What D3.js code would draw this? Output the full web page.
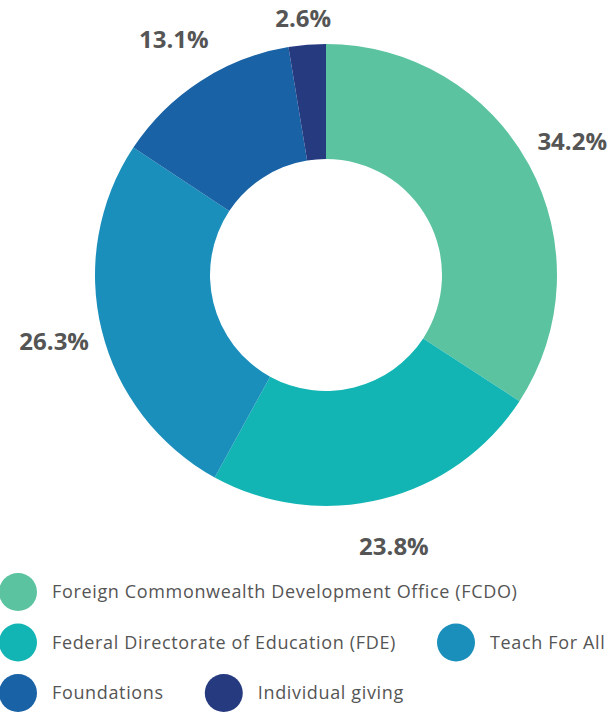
<!DOCTYPE html>
<html>
<head>
<meta charset="utf-8">
<script src="https://cdn.jsdelivr.net/npm/d3@7"></script>
<style>
  body { margin: 0; background: #fff; }
  svg { display: block; }
</style>
</head>
<body>
<div id="chart"></div>
<script>
const width = 612
const height = 713

// funding sources, clockwise from 12 o'clock
const sources = [
  "Foreign Commonwealth Development Office (FCDO)",
  "Federal Directorate of Education (FDE)",
  "Teach For All",
  "Foundations",
  "Individual giving"
]
const shares = [34.2, 23.8, 26.3, 13.1, 2.6]
const colors = ["#5bc3a0", "#13b5b4", "#1b8fbc", "#1862a5", "#263a80"]

const data = sources.map((s, i) => ({ name: s, value: shares[i] }))

const svg = d3.select("#chart")
  .append("svg")
  .attr("width", width)
  .attr("height", height)

const cx = 326, cy = 275
const outer = 231, inner = 116
const labelR = 280

const color = d3.scaleOrdinal().domain(sources).range(colors)

const pie = d3.pie().value(d => d.value).sort(null)
const arc = d3.arc().innerRadius(inner).outerRadius(outer)
const labelArc = d3.arc().innerRadius(labelR).outerRadius(labelR)

const g = svg.append("g").attr("transform", `translate(${cx},${cy})`)

const arcs = pie(data)

g.selectAll("path")
  .data(arcs)
  .enter()
  .append("path")
  .attr("d", arc)
  .attr("fill", d => color(d.data.name))

// percentage labels outside the ring, kept inside the view
g.selectAll("text.pct")
  .data(arcs)
  .enter()
  .append("text")
  .attr("class", "pct")
  .attr("x", d => labelArc.centroid(d)[0])
  .attr("y", d => Math.max(labelArc.centroid(d)[1], 19 - cy))
  .attr("dy", "0.35em")
  .attr("text-anchor", "middle")
  .style("font-family", "'Open Sans', sans-serif")
  .style("font-weight", 700)
  .style("font-size", "24px")
  .style("fill", "#555")
  .text(d => d.data.value.toFixed(1) + "%")

// legend, flowing left to right and wrapping
const legend = svg.append("g").attr("class", "legend")
const dotR = 19
const rowH = 50.5
const gap = 42
let lx = 0, row = 0
sources.forEach((s, i) => {
  const item = legend.append("g")
  item.append("circle")
    .attr("cx", dotR - 1)
    .attr("cy", 0)
    .attr("r", dotR)
    .attr("fill", colors[i])
  const t = item.append("text")
    .attr("x", 52)
    .attr("dy", "0.35em")
    .style("font-family", "'Open Sans', sans-serif")
    .style("font-size", "18px")
    .style("letter-spacing", "0.65px")
    .style("fill", "#555")
    .text(s)
  const w = 52 + t.node().getComputedTextLength()
  if (lx > 0 && lx + w > width) {
    lx = 0
    row += 1
  }
  item.attr("transform", `translate(${lx},${592 + row * rowH})`)
  lx += w + gap
})
</script>
</body>
</html>
